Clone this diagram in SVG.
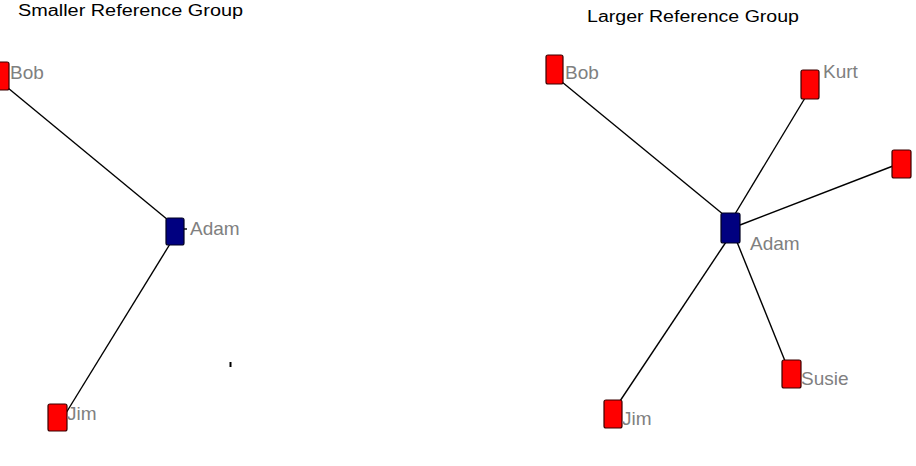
<svg xmlns="http://www.w3.org/2000/svg" width="916" height="466" viewBox="0 0 916 466">
<style>
.title{font-family:"Liberation Sans",Arial,sans-serif;font-size:16px;fill:#000}
.lbl{font-family:"Liberation Sans",Arial,sans-serif;font-size:19px;fill:#808080}
.red{fill:#ff0000;stroke:#3a0000;stroke-width:1.2}
.blue{fill:#000080;stroke:#000020;stroke-width:1.2}
.edge{stroke:#000;stroke-width:1.4;fill:none}
</style>
<rect width="916" height="466" fill="#fff"/>
<text class="title" x="18" y="16" textLength="225" lengthAdjust="spacingAndGlyphs">Smaller Reference  Group</text>
<text class="title" x="587" y="22" textLength="212" lengthAdjust="spacingAndGlyphs">Larger Reference Group</text>
<g id="connectors">
<line class="edge" x1="8" y1="88" x2="168" y2="220"/>
<line class="edge" x1="170" y1="244" x2="66" y2="413"/>
<line class="edge" x1="184" y1="229" x2="187" y2="229"/>
<line class="edge" x1="562" y1="82" x2="724" y2="215"/>
<line class="edge" x1="805" y1="98" x2="735" y2="214"/>
<line class="edge" x1="893" y1="166" x2="740" y2="225"/>
<line class="edge" x1="785" y1="361" x2="737" y2="242"/>
<line class="edge" x1="620" y1="401" x2="726" y2="242"/>
<line x1="230.5" y1="362" x2="230.5" y2="367" stroke="#000" stroke-width="2"/>
</g>
<g id="l-bob"><rect class="red" x="-2" y="62" width="11" height="28" rx="2"/><text class="lbl" x="10" y="79">Bob</text></g>
<g id="l-adam"><rect class="blue" x="166" y="218" width="18" height="27" rx="2"/><text class="lbl" x="190" y="235">Adam</text></g>
<g id="l-jim"><rect class="red" x="48" y="404" width="19" height="27" rx="2"/><text class="lbl" x="67" y="420">Jim</text></g>
<g id="r-bob"><rect class="red" x="546" y="55" width="17" height="29" rx="2"/><text class="lbl" x="565" y="79">Bob</text></g>
<g id="r-kurt"><rect class="red" x="801" y="70" width="18" height="29" rx="2"/><text class="lbl" x="823" y="78">Kurt</text></g>
<g id="r-adam"><rect class="blue" x="721" y="213" width="19" height="30" rx="2"/><text class="lbl" x="750" y="250">Adam</text></g>
<g id="r-right"><rect class="red" x="892" y="150" width="19" height="28" rx="2"/></g>
<g id="r-susie"><rect class="red" x="782" y="360" width="19" height="28" rx="2"/><text class="lbl" x="801" y="385">Susie</text></g>
<g id="r-jim"><rect class="red" x="604" y="400" width="18" height="28" rx="2"/><text class="lbl" x="622" y="425">Jim</text></g>
</svg>
